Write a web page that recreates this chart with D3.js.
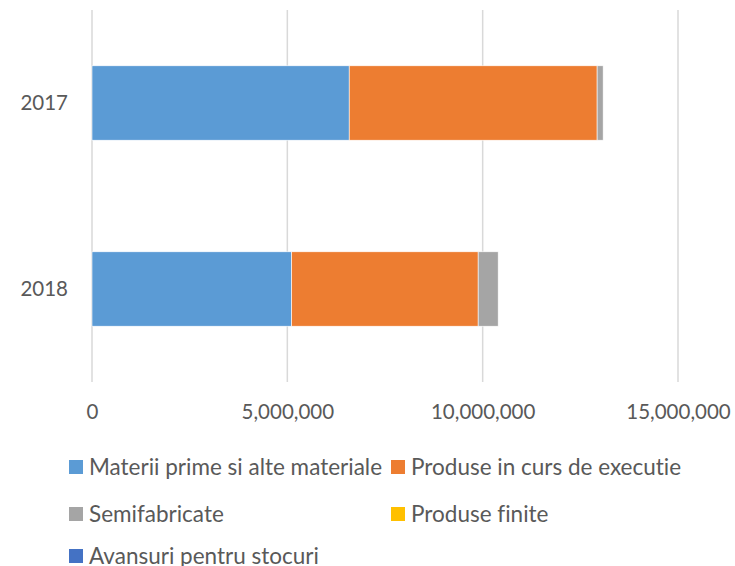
<!DOCTYPE html>
<html>
<head>
<meta charset="utf-8">
<script src="https://cdn.jsdelivr.net/npm/d3@7"></script>
<style>
body {margin: 0; background: #fff;}
text {font-family: Lato, "Open Sans", sans-serif; fill: #595959; font-variant-ligatures: none;}
</style>
</head>
<body>
<svg></svg>
<script>
var screen = {width: 735, height: 566};
var margins = {top: 10, right: 57, bottom: 184, left: 92};

var years = ["2017", "2018"];
var seriesNames = ["Materii prime si alte materiale", "Produse in curs de executie",
                   "Semifabricate", "Produse finite", "Avansuri pentru stocuri"];
var seriesColors = ["#5B9BD5", "#ED7D31", "#A5A5A5", "#FFC000", "#4472C4"];

// values per year, same order as seriesNames
var materii = [6584000, 5110000];
var executie = [6346000, 4775000];
var semifabricate = [154000, 512000];
var finite = [0, 0];
var avansuri = [0, 0];

var xTicks = [0, 5000000, 10000000, 15000000];

var setup = function()
{
    var svg = d3.select("svg")
        .attr("width", screen.width)
        .attr("height", screen.height)

    var width = screen.width - margins.left - margins.right;
    var height = screen.height - margins.top - margins.bottom;

    var table = years.map(function(y, i)
    {
        return {year: y, s0: materii[i], s1: executie[i], s2: semifabricate[i],
                s3: finite[i], s4: avansuri[i]};
    })
    var keys = ["s0", "s1", "s2", "s3", "s4"];
    var stacked = d3.stack().keys(keys)(table);

    var xScale = d3.scaleLinear()
                    .domain([0, 15000000])
                    .range([0, width])

    var yScale = d3.scaleBand()
                    .domain(years)
                    .range([0, height])
                    .paddingInner(0.6)
                    .paddingOuter(0.3)

    var graph = svg.append("g")
        .attr("id", "graph")
        .attr("transform", "translate(" + margins.left + "," + margins.top + ")");

    // gridlines
    graph.append("g")
        .selectAll("line")
        .data(xTicks)
        .enter()
        .append("line")
        .attr("x1", function(d) { return xScale(d); })
        .attr("x2", function(d) { return xScale(d); })
        .attr("y1", 0)
        .attr("y2", height)
        .attr("stroke", "#D9D9D9")
        .attr("stroke-width", 1.5)

    // x axis labels
    var xAxis = d3.axisBottom(xScale)
        .tickValues(xTicks)
        .tickFormat(d3.format(","))
        .tickSize(0)
        .tickPadding(22)

    graph.append("g")
        .attr("id", "xAxis")
        .attr("transform", "translate(0," + height + ")")
        .call(xAxis)
        .call(function(g) { g.select(".domain").remove(); })
        .selectAll("text")
        .style("font-size", "20.5px")

    var yAxis = d3.axisLeft(yScale)
        .tickSize(0)
        .tickPadding(24)

    graph.append("g")
        .attr("id", "yAxis")
        .call(yAxis)
        .call(function(g) { g.select(".domain").remove(); })
        .selectAll("text")
        .style("font-size", "20.5px")

    svg.selectAll(".tick text").attr("fill", "#595959");
    svg.selectAll("#xAxis, #yAxis").attr("font-family", null).attr("font-size", null);

    // bars
    graph.append("g")
        .selectAll("g")
        .data(stacked)
        .enter()
        .append("g")
        .attr("fill", function(d, i) { return seriesColors[i]; })
        .selectAll("rect")
        .data(function(d) { return d; })
        .enter()
        .append("rect")
        .attr("x", function(d) { return xScale(d[0]); })
        .attr("y", function(d) { return yScale(d.data.year); })
        .attr("width", function(d) { return xScale(d[1]) - xScale(d[0]); })
        .attr("height", yScale.bandwidth())
        .attr("stroke", "#fff")
        .attr("stroke-width", 0.6)

    // legend
    var legendPos = [[69, 467], [391, 467], [69, 514], [391, 514], [69, 556]];
    var legend = svg.append("g").attr("id", "legend")
        .selectAll("g")
        .data(seriesNames)
        .enter()
        .append("g")
        .attr("transform", function(d, i)
        {
            return "translate(" + legendPos[i][0] + "," + legendPos[i][1] + ")";
        })

    legend.append("rect")
        .attr("x", 0)
        .attr("y", -7)
        .attr("width", 14)
        .attr("height", 14)
        .attr("fill", function(d, i) { return seriesColors[i]; })

    legend.append("text")
        .attr("x", 20)
        .attr("y", 0)
        .attr("dy", "0.35em")
        .style("font-size", "22.5px")
        .text(function(d) { return d; })
}

setup();
</script>
</body>
</html>
